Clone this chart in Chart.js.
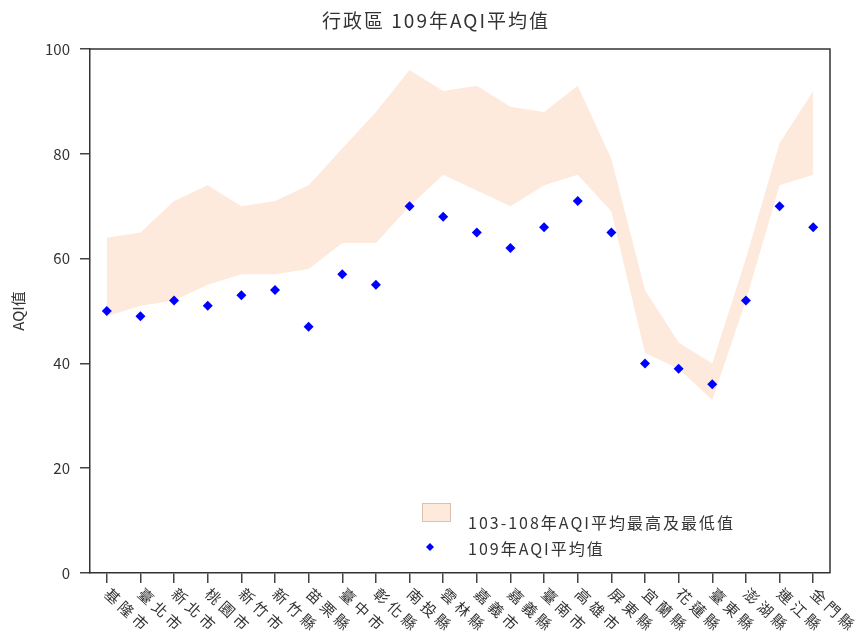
<!DOCTYPE html>
<html>
<head>
<meta charset="utf-8">
<script src="https://cdn.jsdelivr.net/npm/chart.js@4"></script>
<style>
  html, body { margin: 0; padding: 0; background: #fff; }
  #wrap { width: 860px; height: 642px; }
</style>
</head>
<body>
<div id="wrap"><canvas id="c" width="860" height="642"></canvas></div>
<script>
const categories = ['基隆市','臺北市','新北市','桃園市','新竹市','新竹縣','苗栗縣','臺中市','彰化縣','南投縣','雲林縣','嘉義市','嘉義縣','臺南市','高雄市','屏東縣','宜蘭縣','花蓮縣','臺東縣','澎湖縣','連江縣','金門縣'];
const aqi109 = [50,49,52,51,53,54,47,57,55,70,68,65,62,66,71,65,40,39,36,52,70,66];
const bandHigh = [64,65,71,74,70,71,74,81,88,96,92,93,89,88,93,79,54,44,40,60,82,92];
const bandLow = [49,51,52,55,57,57,58,63,63,70,76,73,70,74,76,69,42,39,33,52,74,76];
const yTicks = [0,20,40,60,80,100];
const titleText = '行政區 109年AQI平均值';
const yTitle = 'AQI值';
const legendBand = '103-108年AQI平均最高及最低值';
const legendPoints = '109年AQI平均值';

const FONT = '"Noto Sans CJK TC", "Noto Sans", sans-serif';
const BAND = 'rgb(253,234,221)';
const TXT = '#333';

const customDraw = {
  id: 'customDraw',
  beforeDraw(chart) {
    chart.ctx.save();
    try { chart.ctx.canvas.style.letterSpacing = '0px'; } catch (e) {}
    chart.ctx.restore();
  },
  afterDraw(chart) {
    const ctx = chart.ctx;
    const a = chart.chartArea;
    const xs = chart.scales.x;
    ctx.save();
    // frame top & right
    ctx.strokeStyle = '#333';
    ctx.lineWidth = 1.5;
    ctx.beginPath();
    ctx.moveTo(a.left, a.top);
    ctx.lineTo(a.right, a.top);
    ctx.lineTo(a.right, a.bottom);
    ctx.stroke();
    // title
    ctx.fillStyle = TXT;
    ctx.textAlign = 'center';
    ctx.textBaseline = 'middle';
    ctx.font = '19px ' + FONT;
    try { ctx.letterSpacing = '2px'; } catch (e) {}
    ctx.fillText(titleText, 436, 21);
    // rotated x labels
    ctx.font = '15px ' + FONT;
    ctx.textAlign = 'left';
    try { ctx.letterSpacing = '4px'; } catch (e) {}
    categories.forEach((lab, i) => {
      const px = xs.getPixelForTick(i);
      ctx.save();
      ctx.translate(px, a.bottom + 18);
      ctx.rotate(43 * Math.PI / 180);
      ctx.fillText(lab, 0, 0);
      ctx.restore();
    });
    // legend
    ctx.fillStyle = BAND;
    ctx.fillRect(422, 503, 28, 18);
    ctx.strokeStyle = '#dcc1ae';
    ctx.lineWidth = 1;
    ctx.strokeRect(422.5, 503.5, 28, 18);
    ctx.fillStyle = TXT;
    ctx.font = '16px ' + FONT;
    try { ctx.letterSpacing = '2px'; } catch (e) {}
    ctx.textBaseline = 'middle';
    ctx.fillText(legendBand, 468, 523);
    ctx.fillText(legendPoints, 468, 549);
    try { ctx.letterSpacing = '0px'; } catch (e) {}
    ctx.fillStyle = '#0000ff';
    ctx.beginPath();
    ctx.moveTo(430, 543); ctx.lineTo(434, 547); ctx.lineTo(430, 551); ctx.lineTo(426, 547);
    ctx.closePath();
    ctx.fill();
    ctx.restore();
  }
};

new Chart(document.getElementById('c'), {
  type: 'line',
  data: {
    labels: categories,
    datasets: [
      {
        label: 'low',
        data: bandLow,
        borderWidth: 0,
        pointRadius: 0,
        fill: false,
        order: 2
      },
      {
        label: legendBand,
        data: bandHigh,
        borderWidth: 0,
        pointRadius: 0,
        backgroundColor: BAND,
        fill: '-1',
        order: 2
      },
      {
        label: legendPoints,
        data: aqi109,
        showLine: false,
        pointStyle: 'rectRot',
        pointRadius: 5,
        pointBackgroundColor: '#0000ff',
        pointBorderColor: '#0000ff',
        pointBorderWidth: 0,
        order: 1
      }
    ]
  },
  options: {
    responsive: false,
    animation: false,
    layout: { padding: { left: 0, right: 30, top: 49, bottom: 0 } },
    plugins: {
      legend: { display: false },
      tooltip: { enabled: false },
      title: { display: false }
    },
    scales: {
      x: {
        type: 'category',
        offset: true,
        grid: { display: true, drawOnChartArea: false, drawTicks: true, tickLength: 10, color: '#444', lineWidth: 1.5, offset: false },
        border: { display: true, color: '#333', width: 1.5 },
        ticks: { display: false },
        afterFit(s) { s.height = 69; }
      },
      y: {
        min: 0,
        max: 100,
        afterBuildTicks(s) { s.ticks = yTicks.map(v => ({ value: v })); },
        grid: { display: true, drawOnChartArea: false, drawTicks: true, tickLength: 10, color: '#444', lineWidth: 1.5 },
        border: { display: true, color: '#333', width: 1.5 },
        ticks: { color: TXT, padding: 10, font: { family: FONT, size: 15 } },
        title: { display: true, text: yTitle, color: TXT, font: { family: FONT, size: 15 }, padding: { top: 9, bottom: 0 } },
        afterFit(s) { s.width = 90; }
      }
    }
  },
  plugins: [customDraw]
});
</script>
</body>
</html>
